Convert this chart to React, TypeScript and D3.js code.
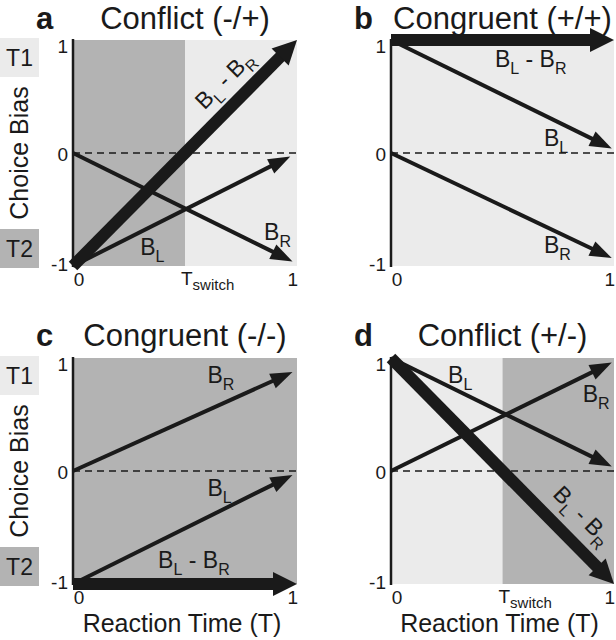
import React from 'react';
import * as d3 from 'd3';

// ---- data ----
const panelIds = ['a', 'b', 'c', 'd'];
const panelTitles = ['Conflict (-/+)', 'Congruent (+/+)', 'Congruent (-/-)', 'Conflict (+/-)'];
const switchTimes: (number | null)[] = [0.5, null, null, 0.5];
const shadeBefore = ['dark', 'light', 'dark', 'light'];
const shadeAfter = ['light', 'light', 'dark', 'dark'];
const yTicks = [1, 0, -1];
const xTicks = [0, 1];
const yAxisTitle = 'Choice Bias';
const xAxisTitle = 'Reaction Time (T)';
const targetLabels = ['T1', 'T2'];

// arrows: [t0, bias0, t1, bias1]
const diffArrows = [[0, -1, 1, 1], [0, 1, 1, 1], [0, -1, 1, -1], [0, 1, 1, -1]];
const leftArrows = [[0, -1, 0.97, -0.03], [0, 1, 0.99, 0.04], [0, -1, 0.98, -0.035], [0, 1, 0.99, 0.04]];
const rightArrows = [[0, 0, 0.98, -0.96], [0, 0, 0.99, -0.93], [0, 0, 0.98, 0.876], [0, 0, 0.99, 0.96]];

// label anchors in data units
const diffLabelPos = [[0.70, 0.60], [0.466, 0.76], [0.38, -0.86], [0.834, -0.44]];
const diffLabelRotated = [true, false, false, true];
const leftLabelPos = [[0.30, -0.90], [0.686, 0.06], [0.60, -0.22], [0.256, 0.78]];
const rightLabelPos = [[0.853, -0.77], [0.686, -0.885], [0.60, 0.78], [0.86, 0.61]];

// ---- layout ----
const W = 616, H = 640;
const colX = [[73, 297], [391, 614]];
const rowY = [[40, 266], [358, 584]];
const DARK = '#b3b3b3';
const LIGHT = '#ebebeb';
const INK = '#1a1a1a';
const FONT = 'Arial, "Liberation Sans", Helvetica, sans-serif';

function arrowShape(p0: number[], p1: number[], w: number, L: number, Hh: number) {
  const dx = p1[0] - p0[0], dy = p1[1] - p0[1];
  const len = Math.hypot(dx, dy);
  const ux = dx / len, uy = dy / len;
  const nx = -uy, ny = ux;
  const bx = p1[0] - L * ux, by = p1[1] - L * uy;
  const line = d3.line()([[p0[0], p0[1]], [bx + 2 * ux, by + 2 * uy]]) as string;
  const head = d3.line()([
    [p1[0], p1[1]],
    [bx + Hh * nx, by + Hh * ny],
    [bx - Hh * nx, by - Hh * ny],
  ]) + 'Z';
  return { line, head, w, angle: (Math.atan2(dy, dx) * 180) / Math.PI };
}

function SubLabel(props: { parts: [string, string][]; x: number; y: number; anchor?: string; rotate?: number; size?: number }) {
  const { parts, x, y, anchor = 'start', rotate = 0, size = 23 } = props;
  const sub = Math.round(size * 0.68);
  const shift = 7;
  const children: any[] = [];
  parts.forEach(([main, s], i) => {
    children.push(
      <tspan key={'m' + i} fontSize={size} dy={i === 0 ? 0 : -shift}>{main}</tspan>
    );
    children.push(
      <tspan key={'s' + i} fontSize={sub} dy={shift}>{s}</tspan>
    );
  });
  return (
    <text
      x={x}
      y={y}
      textAnchor={anchor as any}
      transform={rotate ? `rotate(${rotate} ${x} ${y})` : undefined}
      fill={INK}
      style={{ whiteSpace: 'pre' }}
    >
      {children}
    </text>
  );
}

function Panel({ i }: { i: number }) {
  const col = i % 2, row = Math.floor(i / 2);
  const [x0, x1] = colX[col];
  const [yTop, yBot] = rowY[row];
  const x = d3.scaleLinear().domain([0, 1]).range([x0, x1]);
  const y = d3.scaleLinear().domain([-1, 1]).range([yBot, yTop]);
  const sw = switchTimes[i];
  const shadeCol = (s: string) => (s === 'dark' ? DARK : LIGHT);
  const cx = (x0 + x1) / 2;

  const mk = (a: number[], w: number, L: number, Hh: number) =>
    arrowShape([x(a[0]), y(a[1])], [x(a[2]), y(a[3])], w, L, Hh);
  const thick = mk(diffArrows[i], 12, 24, 12);
  const thinL = mk(leftArrows[i], 4, 22, 8);
  const thinR = mk(rightArrows[i], 4, 22, 8);

  const splitT = sw == null ? 1 : sw;
  const titleY = row === 0 ? 29 : 346;

  return (
    <g>
      {/* title */}
      <text x={x0 - 37} y={titleY} fontSize={31} fontWeight="bold" fill={INK}>
        {panelIds[i]}
      </text>
      <text x={cx} y={titleY} fontSize={31} textAnchor="middle" fill={INK}>
        {panelTitles[i]}
      </text>

      {/* shading */}
      <rect x={x(0)} y={y(1)} width={x(splitT) - x(0)} height={y(-1) - y(1)} fill={shadeCol(shadeBefore[i])} />
      {sw != null && (
        <rect x={x(sw)} y={y(1)} width={x(1) - x(sw)} height={y(-1) - y(1)} fill={shadeCol(shadeAfter[i])} />
      )}

      {/* zero line */}
      <line x1={x(0)} x2={x(1)} y1={y(0)} y2={y(0)} stroke={INK} strokeWidth={1.5} strokeDasharray="7,5" />

      {/* y axis */}
      <line x1={x(0)} x2={x(0)} y1={y(1) - 1} y2={y(-1) + 1} stroke={INK} strokeWidth={2.5} />

      {/* y ticks */}
      {yTicks.map((t) => (
        <text
          key={'y' + t}
          x={x(0) - 5}
          y={y(t) + (t === 1 ? 6 : t === -1 ? -2 : 1)}
          dominantBaseline="central"
          textAnchor="end"
          fontSize={19}
          fill={INK}
        >
          {t}
        </text>
      ))}
      {/* x ticks */}
      {xTicks.map((t) => (
        <text
          key={'x' + t}
          x={t === 0 ? x(t) + 6 : x(t) + 1}
          y={yBot + 20}
          textAnchor={t === 0 ? 'middle' : 'end'}
          fontSize={19}
          fill={INK}
        >
          {t}
        </text>
      ))}
      {sw != null && (
        <text x={x(sw) - 4} y={yBot + 19} fontSize={19} fill={INK}>
          <tspan>T</tspan>
          <tspan fontSize={15} dy={5}>switch</tspan>
        </text>
      )}

      {/* arrows */}
      {[thinL, thinR, thick].map((a, k) => (
        <g key={'ar' + k}>
          <path d={a.line} stroke={INK} strokeWidth={a.w} fill="none" strokeLinecap="butt" />
          <path d={a.head} fill={INK} />
        </g>
      ))}

      {/* labels */}
      {diffLabelRotated[i] ? (
        <SubLabel
          parts={[['B', 'L'], [' - B', 'R']]}
          x={x(diffLabelPos[i][0])}
          y={y(diffLabelPos[i][1])}
          anchor="middle"
          rotate={thick.angle}
        />
      ) : (
        <SubLabel parts={[['B', 'L'], [' - B', 'R']]} x={x(diffLabelPos[i][0])} y={y(diffLabelPos[i][1])} />
      )}
      <SubLabel parts={[['B', 'L']]} x={x(leftLabelPos[i][0])} y={y(leftLabelPos[i][1])} />
      <SubLabel parts={[['B', 'R']]} x={x(rightLabelPos[i][0])} y={y(rightLabelPos[i][1])} />

      {/* left column extras */}
      {col === 0 && (
        <g>
          <rect x={0} y={yTop - 2} width={39} height={39} fill={LIGHT} />
          <text x={19.5} y={yTop + 17.5} dominantBaseline="central" textAnchor="middle" fontSize={23} fill={INK}>
            {targetLabels[0]}
          </text>
          <rect x={0} y={yBot - 37} width={39} height={39} fill={DARK} />
          <text x={19.5} y={yBot - 17.5} dominantBaseline="central" textAnchor="middle" fontSize={23} fill={INK}>
            {targetLabels[1]}
          </text>
          <text
            x={28}
            y={(yTop + yBot) / 2}
            transform={`rotate(-90 28 ${(yTop + yBot) / 2})`}
            textAnchor="middle"
            fontSize={25}
            fill={INK}
          >
            {yAxisTitle}
          </text>
        </g>
      )}
      {row === 1 && (
        <text x={cx - 3} y={yBot + 48} textAnchor="middle" fontSize={25} fill={INK}>
          {xAxisTitle}
        </text>
      )}
    </g>
  );
}

export default function App() {
  return (
    <svg
      width={W}
      height={H}
      viewBox={`0 0 ${W} ${H}`}
      style={{ position: 'absolute', left: 0, top: 0, background: '#fff', fontFamily: FONT }}
    >
      <rect x={0} y={0} width={W} height={H} fill="#fff" />
      {panelIds.map((_, i) => (
        <Panel key={i} i={i} />
      ))}
    </svg>
  );
}
